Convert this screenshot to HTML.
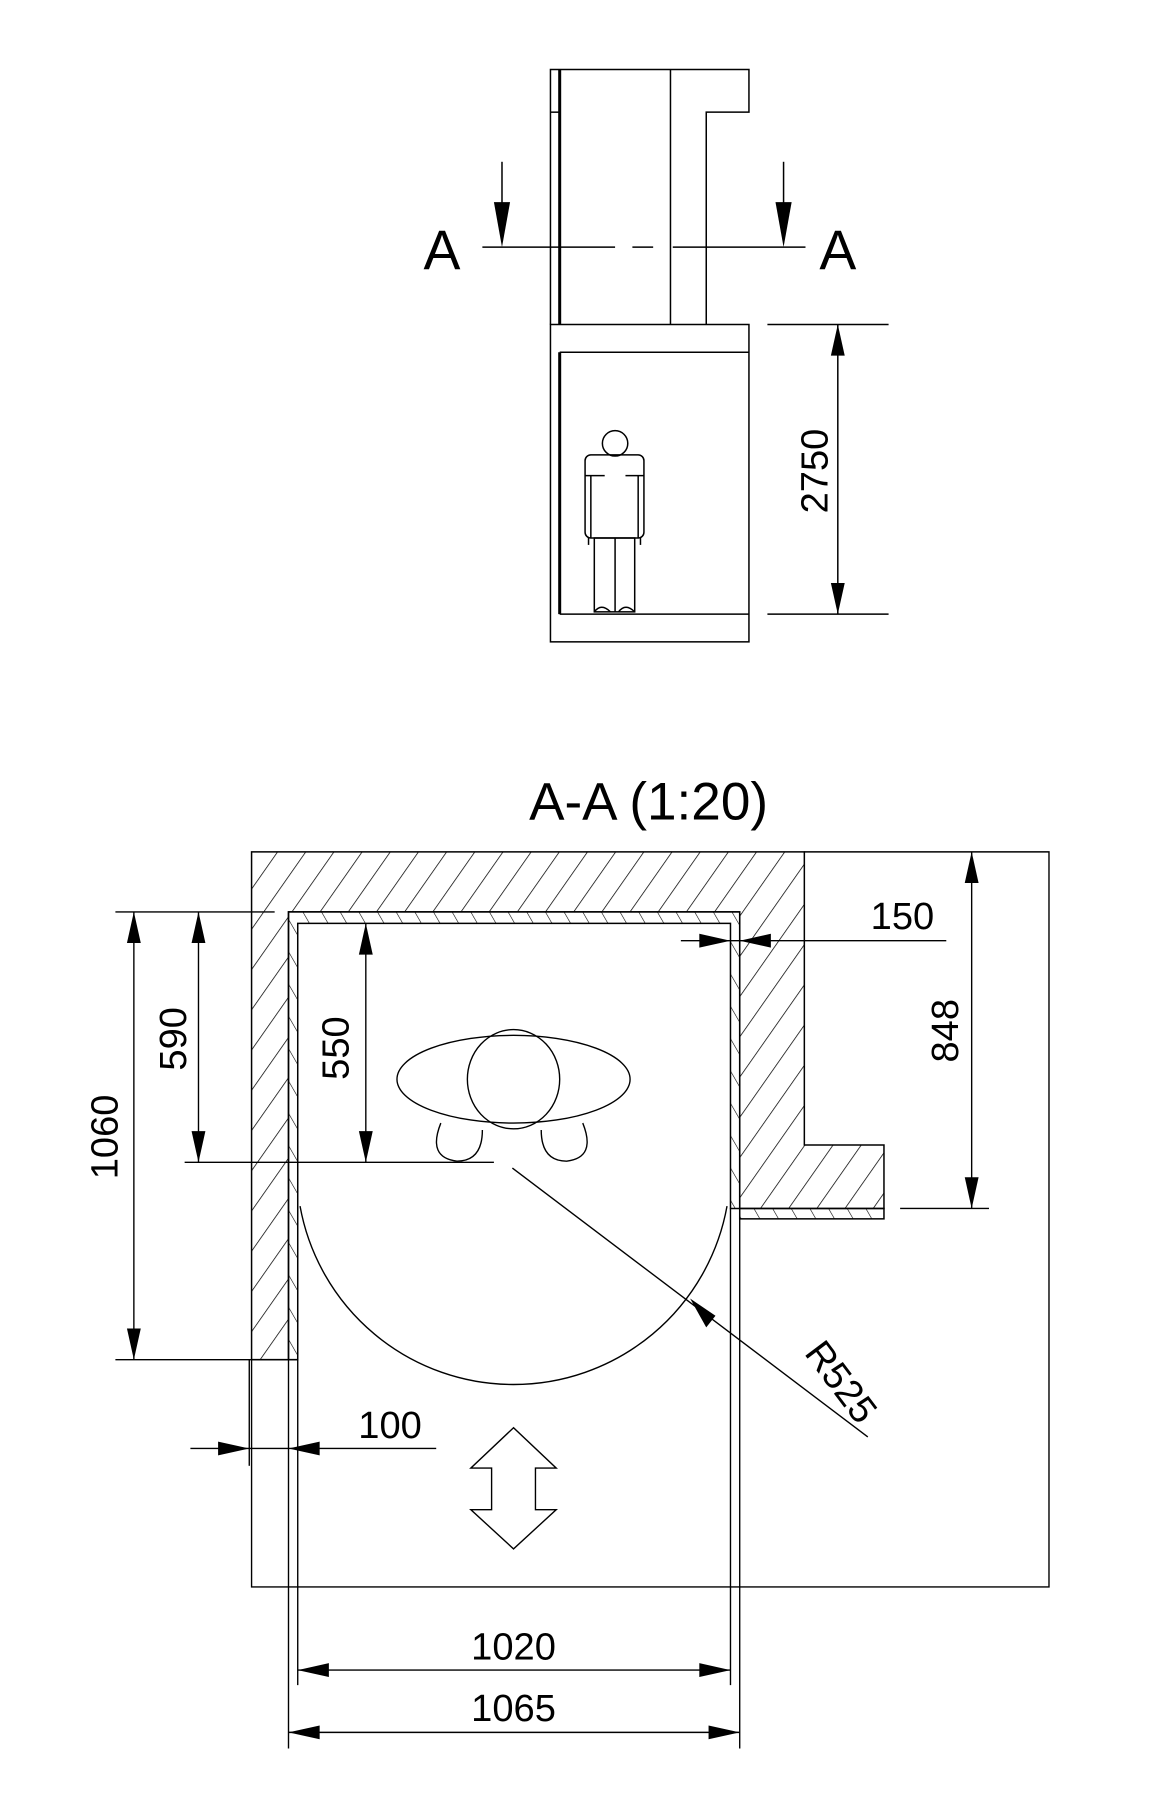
<!DOCTYPE html>
<html><head><meta charset="utf-8"><style>
html,body{margin:0;padding:0;background:#fff;}
svg{display:block;}
text{font-family:"Liberation Sans",sans-serif;fill:#000;}
</style></head><body>
<svg width="1154" height="1818" viewBox="0 0 1000 1575" xmlns="http://www.w3.org/2000/svg">
<defs>
<pattern id="h1" patternUnits="userSpaceOnUse" width="20" height="20" patternTransform="rotate(35)">
<line x1="0" y1="0" x2="0" y2="20" stroke="#000" stroke-width="1.3"/>
</pattern>
<pattern id="h2" patternUnits="userSpaceOnUse" width="14" height="14" patternTransform="rotate(-30)">
<line x1="0" y1="0" x2="0" y2="14" stroke="#000" stroke-width="1"/>
</pattern>
</defs>
<g fill="none" stroke="#000" stroke-width="1.3">
<polyline points="477,281 477,60 649,60 649,97 612,97 612,281"/>
<line x1="485" y1="60" x2="485" y2="281" stroke-width="2.6"/>
<line x1="477" y1="97" x2="485" y2="97"/>
<line x1="581" y1="60" x2="581" y2="281"/>
<rect x="477" y="281" width="172" height="275"/>
<line x1="485" y1="305" x2="649" y2="305"/>
<line x1="485" y1="305" x2="485" y2="532" stroke-width="2.6"/>
<line x1="485" y1="532" x2="649" y2="532"/>
<line x1="665" y1="281" x2="770" y2="281"/>
<line x1="665" y1="532" x2="770" y2="532"/>
<line x1="726" y1="281" x2="726" y2="532"/>
<line x1="418" y1="214" x2="533" y2="214"/>
<line x1="548" y1="214" x2="566" y2="214"/>
<line x1="583" y1="214" x2="698" y2="214"/>
<line x1="435" y1="140" x2="435" y2="180"/>
<line x1="679" y1="140" x2="679" y2="180"/>
<circle cx="533" cy="384" r="11"/>
<rect x="507" y="394" width="51" height="72" rx="5"/>
<line x1="507" y1="412" x2="524" y2="412"/>
<line x1="542" y1="412" x2="558" y2="412"/>
<line x1="512" y1="412" x2="512" y2="466"/>
<line x1="553" y1="412" x2="553" y2="466"/>
<rect x="515" y="466" width="35" height="64"/>
<line x1="533" y1="466" x2="533" y2="530"/>
<path d="M515,530 q6,-8 14,0 M536,530 q6,-8 14,0"/>
<line x1="510" y1="466" x2="510" y2="472"/><line x1="555" y1="466" x2="555" y2="472"/>
</g>
<g fill="#000">
<polygon points="428,175 442,175 435,214"/>
<polygon points="672,175 686,175 679,214"/>
<polygon points="726,281 720,308 732,308"/>
<polygon points="726,532 720,505 732,505"/>
</g>
<text x="383" y="233" font-size="48" text-anchor="middle">A</text>
<text x="726" y="233" font-size="48" text-anchor="middle">A</text>
<text transform="translate(717,408) rotate(-90)" font-size="33" text-anchor="middle">2750</text>

<text x="562" y="710" font-size="46" text-anchor="middle">A-A (1:20)</text>
<path d="M218,738 L697,738 L697,992 L766,992 L766,1047 L641,1047 L641,790 L250,790 L250,1178 L218,1178 Z" fill="url(#h1)" stroke="#000" stroke-width="1.3"/>
<path d="M250,790 L641,790 L641,1047 L633,1047 L633,800 L258,800 L258,1178 L250,1178 Z" fill="url(#h2)" stroke="#000" stroke-width="1.3"/>
<rect x="641" y="1047" width="125" height="9" fill="url(#h2)" stroke="#000" stroke-width="1.3"/>
<g fill="none" stroke="#000" stroke-width="1.2">
<polyline points="697,738 909,738 909,1375 218,1375 218,1178"/>
<line x1="250" y1="1178" x2="250" y2="1515"/>
<line x1="258" y1="1178" x2="258" y2="1460"/>
<line x1="641" y1="1056" x2="641" y2="1515"/>
<line x1="633" y1="1047" x2="633" y2="1460"/>
<line x1="216" y1="1178" x2="216" y2="1270"/>
<line x1="100" y1="790" x2="238" y2="790"/>
<line x1="100" y1="1178" x2="258" y2="1178"/>
<line x1="160" y1="1007" x2="428" y2="1007"/>
<line x1="780" y1="1047" x2="857" y2="1047"/>
<line x1="116" y1="790" x2="116" y2="1178"/>
<line x1="172" y1="790" x2="172" y2="1007"/>
<line x1="317" y1="800" x2="317" y2="1007"/>
<line x1="842" y1="738" x2="842" y2="1047"/>
<line x1="590" y1="815" x2="820" y2="815"/>
<line x1="165" y1="1255" x2="378" y2="1255"/>
<line x1="258" y1="1447" x2="633" y2="1447"/>
<line x1="250" y1="1501" x2="641" y2="1501"/>
<path d="M260,1045 A188,188 0 0 0 630,1045"/>
<line x1="444" y1="1012" x2="752" y2="1245"/>
<ellipse cx="445" cy="935" rx="101" ry="38"/>
<ellipse cx="445" cy="935" rx="40" ry="43"/>
<path d="M382,973 q-12,30 14,33 q22,0 22,-27"/>
<path d="M469,979 q0,27 22,27 q26,-3 14,-33"/>
<polygon points="445,1237 408,1272 426,1272 426,1308 408,1308 445,1342 482,1308 464,1308 464,1272 482,1272"/>
</g>
<g fill="#000">
<polygon points="116,790 110,817 122,817"/><polygon points="116,1178 110,1151 122,1151"/>
<polygon points="172,790 166,817 178,817"/><polygon points="172,1007 166,980 178,980"/>
<polygon points="317,800 311,827 323,827"/><polygon points="317,1007 311,980 323,980"/>
<polygon points="842,738 836,765 848,765"/><polygon points="842,1047 836,1020 848,1020"/>
<polygon points="633,815 606,809 606,821"/><polygon points="641,815 668,809 668,821"/>
<polygon points="216,1255 189,1249 189,1261"/><polygon points="250,1255 277,1249 277,1261"/>
<polygon points="258,1447 285,1441 285,1453"/><polygon points="633,1447 606,1441 606,1453"/>
<polygon points="250,1501 277,1495 277,1507"/><polygon points="641,1501 614,1495 614,1507"/>
<polygon points="598,1125 612,1150 620,1140"/>
</g>
<text transform="translate(102,985) rotate(-90)" font-size="33" text-anchor="middle">1060</text>
<text transform="translate(161,900) rotate(-90)" font-size="33" text-anchor="middle">590</text>
<text transform="translate(302,908) rotate(-90)" font-size="33" text-anchor="middle">550</text>
<text transform="translate(830,893) rotate(-90)" font-size="33" text-anchor="middle">848</text>
<text x="782" y="805" font-size="33" text-anchor="middle">150</text>
<text x="338" y="1246" font-size="33" text-anchor="middle">100</text>
<text x="445" y="1438" font-size="33" text-anchor="middle">1020</text>
<text x="445" y="1491" font-size="33" text-anchor="middle">1065</text>
<text transform="translate(720,1204) rotate(53)" font-size="33" text-anchor="middle">R525</text>
</svg>
</body></html>
